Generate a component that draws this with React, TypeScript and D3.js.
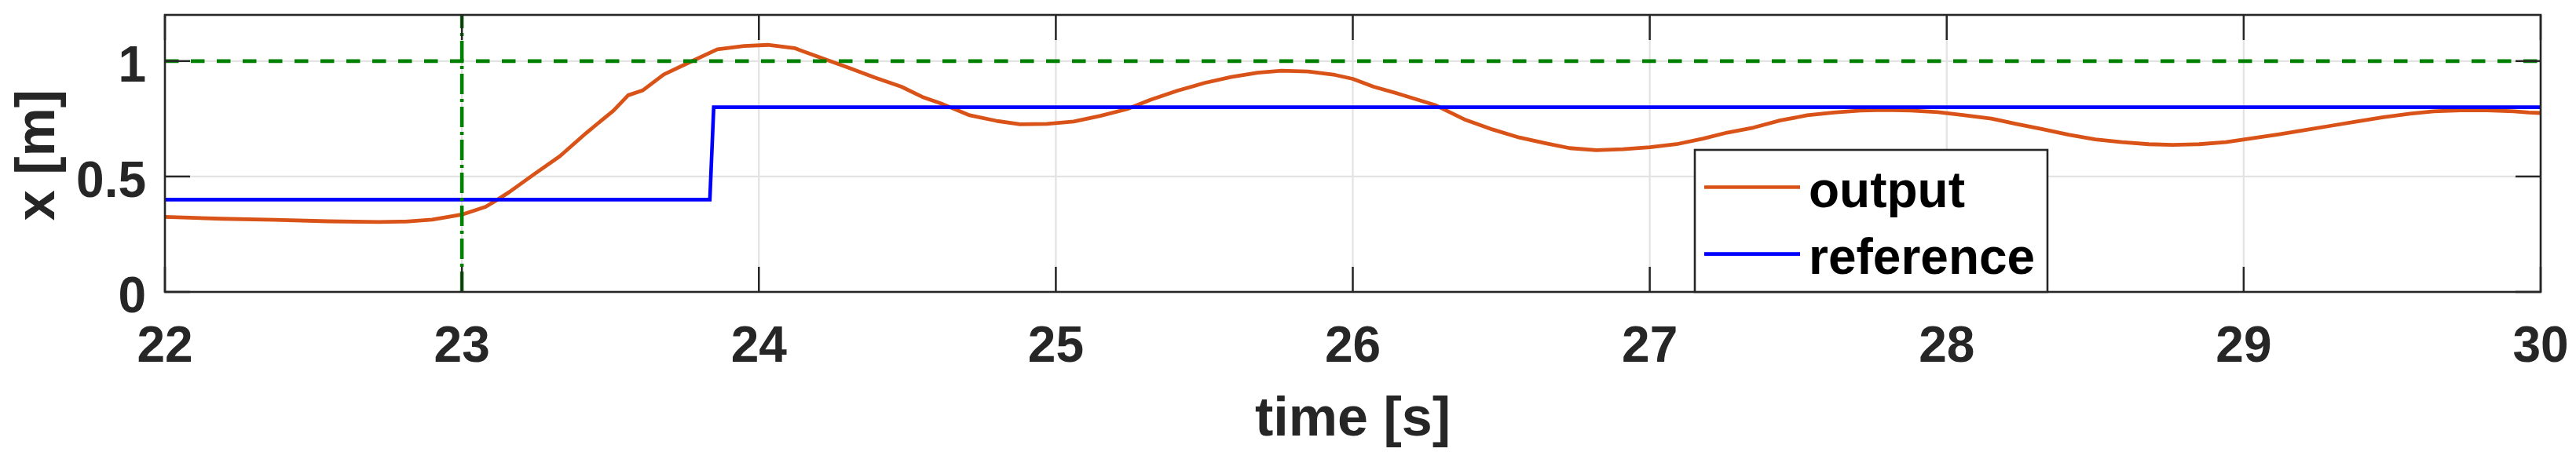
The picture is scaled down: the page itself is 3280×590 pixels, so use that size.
import React from "react";
import * as d3 from "d3";

// ---- data ----
const outputT = [22.0, 22.19, 22.37, 22.55, 22.72, 22.81, 22.9, 23.0, 23.08, 23.12, 23.16, 23.24, 23.33, 23.42, 23.51, 23.56, 23.61, 23.68, 23.77, 23.86, 23.95, 24.03, 24.12, 24.21, 24.3, 24.39, 24.48, 24.55, 24.62, 24.71, 24.8, 24.88, 24.97, 25.06, 25.15, 25.24, 25.32, 25.41, 25.5, 25.59, 25.68, 25.76, 25.85, 25.94, 26.0, 26.07, 26.16, 26.28, 26.38, 26.47, 26.56, 26.65, 26.73, 26.82, 26.91, 27.0, 27.09, 27.18, 27.26, 27.35, 27.44, 27.53, 27.62, 27.71, 27.79, 27.88, 27.97, 28.06, 28.15, 28.23, 28.32, 28.41, 28.5, 28.59, 28.68, 28.76, 28.85, 28.94, 29.03, 29.12, 29.2, 29.29, 29.38, 29.47, 29.56, 29.64, 29.73, 29.82, 29.91, 29.96, 30.0];
const outputX = [0.325, 0.317, 0.312, 0.306, 0.303, 0.305, 0.313, 0.335, 0.369, 0.4, 0.433, 0.507, 0.588, 0.69, 0.785, 0.852, 0.874, 0.942, 0.997, 1.051, 1.065, 1.07, 1.056, 1.014, 0.972, 0.929, 0.889, 0.845, 0.813, 0.765, 0.741, 0.726, 0.728, 0.738, 0.763, 0.792, 0.833, 0.872, 0.905, 0.931, 0.95, 0.958, 0.955, 0.94, 0.923, 0.889, 0.856, 0.808, 0.745, 0.704, 0.669, 0.644, 0.623, 0.614, 0.618, 0.627, 0.64, 0.664, 0.69, 0.712, 0.743, 0.765, 0.777, 0.786, 0.788, 0.786, 0.779, 0.765, 0.751, 0.729, 0.706, 0.681, 0.661, 0.649, 0.64, 0.637, 0.64, 0.649, 0.666, 0.683, 0.7, 0.719, 0.738, 0.757, 0.772, 0.782, 0.787, 0.787, 0.782, 0.777, 0.775];

const referenceT = [22.0, 23.835, 23.848, 30.0];
const referenceX = [0.4, 0.4, 0.8, 0.8];

const limitHT = [22, 30];
const limitHX = [1, 1];
const markerVT = [23, 23];
const markerVX = [0, 1.2];

const xTicks = [22, 23, 24, 25, 26, 27, 28, 29, 30];
const yTicks = [0, 0.5, 1];
const yTickLabels = ["0", "0.5", "1"];

const legendLabels = ["output", "reference"];
const xLabel = "time [s]";
const yLabel = "x [m]";

// ---- styles ----
const W = 3280;
const H = 590;
const L = 210, R = 3235, T = 19, B = 372;
const AX = "#262626";
const GRID = "#e3e3e3";
const ORANGE = "#D95319";
const BLUE = "#0000FF";
const GREEN = "#008000";
const FONT = "'Liberation Sans', Arial, Helvetica, sans-serif";

export default function App() {
  const x = d3.scaleLinear().domain([22, 30]).range([L, R]);
  const y = d3.scaleLinear().domain([0, 1.2]).range([B, T]);
  const line = d3
    .line<[number, number]>()
    .x((d) => x(d[0]))
    .y((d) => y(d[1]));
  const zip = (a: number[], b: number[]) => a.map((v, i) => [v, b[i]] as [number, number]);

  const tickLen = 32;

  return (
    <svg
      width={W}
      height={H}
      viewBox={`0 0 ${W} ${H}`}
      style={{ position: "absolute", left: 0, top: 0, background: "#fff" }}
      fontFamily={FONT}
    >
      <rect x={0} y={0} width={W} height={H} fill="#fff" />
      <defs>
        <clipPath id="plotclip">
          <rect x={L} y={T} width={R - L} height={B - T} />
        </clipPath>
      </defs>
      {/* grid */}
      {xTicks.slice(1, -1).map((t) => (
        <line key={"gx" + t} x1={x(t)} x2={x(t)} y1={T} y2={B} stroke={GRID} strokeWidth={2.3} />
      ))}
      {yTicks.slice(1).map((t) => (
        <line key={"gy" + t} x1={L} x2={R} y1={y(t)} y2={y(t)} stroke={GRID} strokeWidth={2.3} />
      ))}
      {/* data */}
      <g clipPath="url(#plotclip)">
        <path d={line(zip(outputT, outputX)) || ""} fill="none" stroke={ORANGE} strokeWidth={4.8} strokeLinejoin="round" />
        <path d={line(zip(referenceT, referenceX)) || ""} fill="none" stroke={BLUE} strokeWidth={4.6} />
        <path d={line(zip(markerVT, markerVX)) || ""} fill="none" stroke={GREEN} strokeWidth={4.6} strokeDasharray="26 6 4 6" />
      </g>
      <path d={line(zip(limitHT, limitHX)) || ""} fill="none" stroke={GREEN} strokeWidth={4.6} strokeDasharray="17.5 15.5" />
      {/* ticks */}
      {xTicks.map((t) => (
        <g key={"tx" + t}>
          <line x1={x(t)} x2={x(t)} y1={B} y2={B - tickLen} stroke={AX} strokeWidth={2.5} />
          <line x1={x(t)} x2={x(t)} y1={T} y2={T + tickLen} stroke={AX} strokeWidth={2.5} />
          <text x={x(t)} y={461} textAnchor="middle" fontSize={64} fontWeight="bold" fill={AX}>
            {t}
          </text>
        </g>
      ))}
      {yTicks.map((t, i) => (
        <g key={"ty" + t}>
          <line x1={L} x2={L + tickLen} y1={y(t)} y2={y(t)} stroke={AX} strokeWidth={2.5} />
          <line x1={R} x2={R - tickLen} y1={y(t)} y2={y(t)} stroke={AX} strokeWidth={2.5} />
          <text x={186} y={y(t) + 26} textAnchor="end" fontSize={64} fontWeight="bold" fill={AX}>
            {yTickLabels[i]}
          </text>
        </g>
      ))}
      {/* box */}
      <rect x={L} y={T} width={R - L} height={B - T} fill="none" stroke={AX} strokeWidth={2.6} />
      {/* labels */}
      <text x={(L + R) / 2} y={555} textAnchor="middle" fontSize={70} fontWeight="bold" fill={AX}>
        {xLabel}
      </text>
      <text
        transform={`translate(69, ${(T + B) / 2 + 2}) rotate(-90)`}
        textAnchor="middle"
        fontSize={70}
        fontWeight="bold"
        fill={AX}
      >
        {yLabel}
      </text>
      {/* legend */}
      <rect x={2158} y={191} width={449} height={B - 191} fill="#fff" stroke={AX} strokeWidth={2.6} />
      {legendLabels.map((lab, i) => {
        const ly = i === 0 ? 238.5 : 323.7;
        return (
          <g key={lab}>
            <line x1={2170} x2={2292} y1={ly} y2={ly} stroke={i === 0 ? ORANGE : BLUE} strokeWidth={4.7} />
            <text x={2303} y={ly + 25} fontSize={64} fontWeight="bold" fill="#000">
              {lab}
            </text>
          </g>
        );
      })}
    </svg>
  );
}
